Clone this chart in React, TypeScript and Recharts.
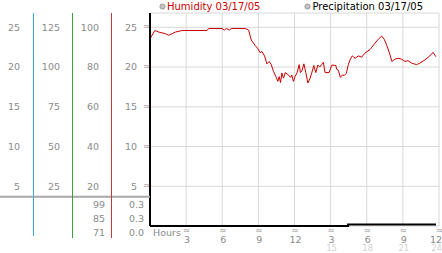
import { LineChart, Line, XAxis, YAxis, CartesianGrid, Legend } from "recharts"

const hours = [
  0.04, 0.4, 0.73, 1.28, 1.56, 1.84, 2.11, 2.67, 4.74, 4.87, 5.98, 6.17, 6.34, 6.59, 6.75, 7.91,
  8.19, 8.41, 8.74, 8.96, 9.15, 9.3, 9.51, 9.71, 9.9, 10.07, 10.26, 10.45, 10.62, 10.73, 10.84,
  10.95, 11.09, 11.23, 11.5, 11.67, 11.78, 11.91, 12.05, 12.22, 12.39, 12.49, 12.61, 12.78, 12.94,
  13.11, 13.27, 13.44, 13.6, 13.77, 13.94, 14.1, 14.27, 14.4, 14.54, 14.87, 15.1, 15.43, 15.51,
  15.64, 15.81, 15.97, 16.14, 16.3, 16.47, 16.64, 16.8, 17.03, 17.3, 17.58, 17.85, 18.27, 18.68,
  18.96, 19.24, 19.45, 19.7, 19.93, 20.09, 20.34, 20.61, 20.89, 21.17, 21.42, 21.72, 22.14, 22.41,
  22.83, 23.24, 23.51, 23.74,
]

const humidity = [
  23.65, 24.6, 24.4, 24.2, 24.0, 24.2, 24.4, 24.6, 24.6, 24.85, 24.85, 24.65, 24.85, 24.65, 24.85,
  24.85, 24.65, 23.4, 22.7, 22.3, 21.8, 21.95, 21.4, 20.4, 20.7, 20.3, 19.45, 18.8, 18.2, 18.8,
  18.05, 19.25, 18.6, 19.3, 19.0, 18.7, 19.0, 18.2, 18.8, 19.3, 20.3, 19.3, 19.5, 20.4, 19.3, 18.0,
  18.5, 19.3, 20.2, 19.3, 20.25, 20.0, 20.35, 20.6, 19.3, 19.3, 20.25, 20.2, 19.7, 19.6, 18.7, 19.0,
  18.95, 19.2, 20.3, 21.0, 21.4, 21.1, 21.4, 21.25, 21.75, 22.2, 23.0, 23.5, 23.9, 23.5, 22.6,
  21.55, 20.7, 21.0, 21.1, 21.0, 20.7, 20.8, 20.5, 20.3, 20.5, 20.9, 21.4, 21.85, 21.3,
]

const precipHours = [0, 16.45, 23.75]
const precipitation = [0, 0.01, 0.01]

const hourTicks = [3, 6, 9, 12, 15, 18, 21, 24]
const humidityTicks = [5, 10, 15, 20, 25]
const col2Ticks = [25, 50, 75, 100, 125]
const col3Ticks = [20, 40, 60, 80, 100]
const col3Lower = ["99", "85", "71"]
const precipLabels = ["0.3", "0.3", "0.0"]

const legendItems = [
  { name: "Humidity 03/17/05", color: "#cc0000" },
  { name: "Precipitation 03/17/05", color: "#000000" },
]

const HUM_MAX = 26.8
const FONT = "'DejaVu Sans', Verdana, sans-serif"
const TICK_GRAY = "#8a8a8a"
const FAINT = "#d2d2d2"

const humidityData = hours.map((h, i) => ({ hour: h, humidity: humidity[i] }))
const precipData = precipHours.map((h, i) => ({ hour: h, precipitation: precipitation[i] }))

function HumTick({ x, y, payload }: any) {
  return (
    <g>
      <text x={x} y={y} dy="0.35em" textAnchor="end" fill={TICK_GRAY} fontSize={9.5} fontFamily={FONT}>
        {payload.value}
      </text>
      <text x={x + 9.5} y={y + 2} textAnchor="middle" fill={TICK_GRAY} fontSize={8} fontFamily={FONT}>
        ≈
      </text>
    </g>
  )
}

function HourTick({ x, y, payload }: any) {
  const h = payload.value
  const h12 = h > 12 ? h - 12 : h
  // the last label sits on the right edge, so keep it inside
  const last = h === hourTicks[hourTicks.length - 1]
  const lx = last ? 442 : x + 1
  const anchor = last ? "end" : "middle"
  return (
    <g fontFamily={FONT}>
      <text x={x + 0.5} y={y + 6.5} textAnchor="middle" fill={TICK_GRAY} fontSize={8}>
        ≈
      </text>
      <text x={lx} y={y + 16.5} textAnchor={anchor} fill={TICK_GRAY} fontSize={9.5}>
        {h12}
      </text>
      {h > 12 && (
        <text x={lx} y={y + 25} textAnchor={anchor} fill={FAINT} fontSize={8.5}>
          {h}
        </text>
      )}
    </g>
  )
}

function HoursLabel({ viewBox }: any) {
  if (!viewBox) return null
  return (
    <text x={viewBox.x + 3} y={viewBox.y + 9.5} fill={TICK_GRAY} fontSize={9.5} fontFamily={FONT}>
      Hours
    </text>
  )
}

function LegendContent() {
  return (
    <div style={{ display: "flex", height: 13, alignItems: "center", fontSize: 10, fontFamily: FONT, gap: 44 }}>
      {legendItems.map((item) => (
        <div key={item.name} style={{ display: "flex", alignItems: "center", color: item.color, whiteSpace: "nowrap" }}>
          <svg width={7} height={7} style={{ marginRight: 1 }}>
            <circle cx={3.5} cy={3.5} r={2.6} fill="#c4c4c4" stroke="#8c8c8c" strokeWidth={0.8} />
          </svg>
          <span>{item.name}</span>
        </div>
      ))}
    </div>
  )
}

const sideTick = { fill: TICK_GRAY, fontSize: 9.5, fontFamily: FONT }

export default function App() {
  return (
    <div style={{ position: "relative", width: 442, height: 253, background: "#fff", fontFamily: FONT }}>
      <style>{"body{margin:0}"}</style>
      <LineChart width={442} height={253} margin={{ top: 0, right: 3, bottom: 0, left: 0 }}>
        <CartesianGrid yAxisId="h0" stroke="#d8d8d8" vertical horizontal />
        <XAxis
          dataKey="hour"
          type="number"
          domain={[0, 24]}
          ticks={hourTicks}
          axisLine={false}
          tickLine={false}
          tickSize={0}
          tickMargin={0}
          height={27}
          interval={0}
          tick={<HourTick />}
          label={<HoursLabel />}
        />
        {/* left columns: recharts stacks them by id, h0 next to the plot */}
        <YAxis
          yAxisId="h0"
          type="number"
          width={39}
          domain={[0, HUM_MAX]}
          ticks={humidityTicks}
          tickLine={false}
          tickSize={0}
          tickMargin={13}
          axisLine={{ stroke: "#000", strokeWidth: 2 }}
          tick={<HumTick />}
        />
        <YAxis
          yAxisId="h1"
          type="number"
          width={39}
          domain={[0, HUM_MAX * 4]}
          ticks={col3Ticks}
          allowDataOverflow
          tickLine={false}
          axisLine={false}
          tickSize={0}
          tickMargin={12}
          tick={sideTick}
        />
        <YAxis
          yAxisId="h2"
          type="number"
          width={39}
          domain={[0, HUM_MAX * 5]}
          ticks={col2Ticks}
          allowDataOverflow
          tickLine={false}
          axisLine={false}
          tickSize={0}
          tickMargin={12}
          tick={sideTick}
        />
        <YAxis
          yAxisId="h3"
          type="number"
          width={33}
          domain={[0, HUM_MAX]}
          ticks={humidityTicks}
          allowDataOverflow
          tickLine={false}
          axisLine={false}
          tickSize={0}
          tickMargin={13}
          tick={sideTick}
        />
        <YAxis yAxisId="p" type="number" hide domain={[0, 1.5]} />
        <Legend
          verticalAlign="top"
          align="left"
          content={<LegendContent />}
          wrapperStyle={{ top: 0, left: 159, width: 283, height: 13 }}
        />
        <Line
          yAxisId="p"
          data={precipData}
          dataKey="precipitation"
          name="Precipitation 03/17/05"
          type="stepAfter"
          stroke="#000"
          strokeWidth={2}
          dot={false}
          isAnimationActive={false}
        />
        <Line
          yAxisId="h0"
          data={humidityData}
          dataKey="humidity"
          name="Humidity 03/17/05"
          type="linear"
          stroke="#cc0000"
          strokeWidth={1}
          dot={false}
          isAnimationActive={false}
        />
      </LineChart>
      <svg
        width={442}
        height={253}
        style={{ position: "absolute", left: 0, top: 0, pointerEvents: "none" }}
        fontFamily={FONT}
        fontSize={9.5}
      >
        <line x1={0} y1={196.7} x2={150} y2={196.7} stroke="#a8a8a8" strokeWidth={2} />
        <line x1={33.5} y1={13} x2={33.5} y2={236} stroke="#3aa9d6" strokeWidth={1} />
        <line x1={72.5} y1={13} x2={72.5} y2={238} stroke="#3a9e3a" strokeWidth={1} />
        <line x1={111.5} y1={13} x2={111.5} y2={238} stroke="#c43a3a" strokeWidth={1} />
        {col3Lower.map((t, i) => (
          <text key={"a" + i} x={105} y={207.5 + i * 14.3} textAnchor="end" fill={TICK_GRAY}>
            {t}
          </text>
        ))}
        {precipLabels.map((t, i) => (
          <text key={"b" + i} x={144} y={207.5 + i * 14.3} textAnchor="end" fill={TICK_GRAY}>
            {t}
          </text>
        ))}
      </svg>
    </div>
  )
}
